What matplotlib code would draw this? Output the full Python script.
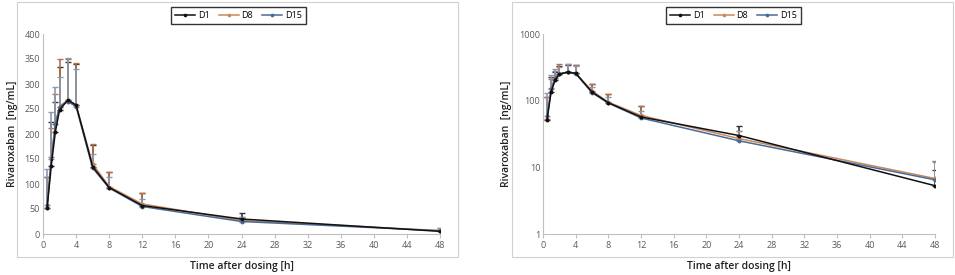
import numpy as np
import matplotlib.pyplot as plt
from matplotlib.patches import Rectangle
from matplotlib.ticker import FixedLocator, NullLocator

plt.rcParams['font.family'] = ['Open Sans', 'DejaVu Sans']

# sampling times [h]
times = [0.5, 1, 1.5, 2, 3, 4, 6, 8, 12, 24, 48]

# mean concentrations [ng/mL]
d1_mean = [52, 137, 205, 248, 268, 258, 135, 93, 57, 30, 5.3]
d8_mean = [53, 155, 220, 255, 268, 258, 140, 95, 60, 27, 6.8]
d15_mean = [58, 150, 220, 255, 265, 255, 132, 92, 55, 25, 6.5]

# upper standard deviations [ng/mL]
d1_sd = [63, 88, 60, 87, 77, 82, 43, 32, 26, 12, 3.7]
d8_sd = [62, 58, 60, 95, 82, 85, 40, 30, 23, 8, 5.7]
d15_sd = [72, 95, 75, 60, 87, 75, 28, 23, 15, 10, 5.5]

series = [
    ("D1", d1_mean, d1_sd, "#111111", "#333333", 5),
    ("D8", d8_mean, d8_sd, "#c8895a", "#b8704a", 3),
    ("D15", d15_mean, d15_sd, "#4a6a96", "#8a9ab0", 4),
]

x_ticks = list(range(0, 49, 4))

W, H = 955, 275
fig = plt.figure(figsize=(W / 100, H / 100), dpi=100)


def draw_panel(left_px, right_px, box, log):
    ax = fig.add_axes([left_px / W, 41 / H, (right_px - left_px) / W, 200 / H])
    for name, mean, sd, col, ecol, z in series:
        ax.errorbar(times, mean, yerr=[np.zeros(len(sd)), sd], fmt='none',
                    ecolor=ecol, elinewidth=1.2, capsize=2.5, capthick=1, zorder=2)
        ax.plot(times, mean, '-', color=col, lw=1.1, marker='o', ms=1.8,
                label=name, zorder=z)
    ax.set_xlim(0, 48)
    if log:
        ax.set_yscale('log')
        ax.set_ylim(1, 1000)
        ax.yaxis.set_major_locator(FixedLocator([1, 10, 100, 1000]))
        ax.set_yticklabels(['1', '10', '100', '1000'])
        ax.yaxis.set_minor_locator(NullLocator())
    else:
        ax.set_ylim(0, 400)
        ax.set_yticks(range(0, 401, 50))
    ax.set_xticks(x_ticks)
    for s in ('top', 'right'):
        ax.spines[s].set_visible(False)
    for s in ('left', 'bottom'):
        ax.spines[s].set_color('#bfbfbf')
    ax.tick_params(axis='both', labelsize=6.5, colors='#595959', length=3,
                   width=0.8, pad=2)
    ax.tick_params(axis='y', length=0)
    ax.tick_params(axis='x', color='#bfbfbf')
    ax.set_ylabel('Rivaroxaban  [ng/mL]', fontsize=7.5, fontweight='semibold',
                  color='#222222', labelpad=5)
    ax.set_xlabel('Time after dosing [h]', fontsize=7.5, fontweight='semibold',
                  color='#222222', va='center')
    ax.xaxis.set_label_coords(0.5, -33 / 200)
    bx0, by0, bx1, by1 = box
    fig.patches.append(Rectangle((bx0 / W, 1 - by1 / H), (bx1 - bx0) / W,
                                 (by1 - by0) / H, transform=fig.transFigure,
                                 fill=False, ec='#d0d0d0', lw=0.8, zorder=0))
    cx = (bx0 + bx1) / 2 + 1
    leg = ax.legend(loc='center', bbox_to_anchor=(cx / W, 1 - 15.5 / H),
                    bbox_transform=fig.transFigure, ncol=3, fontsize=6.5,
                    frameon=True, fancybox=False, handlelength=2.2,
                    columnspacing=1.0, handletextpad=0.3, borderpad=0.45,
                    markerscale=0.9)
    leg.get_frame().set_edgecolor('black')
    leg.get_frame().set_linewidth(1.0)
    return ax


draw_panel(43, 440, (17, 2, 458, 257), log=False)
draw_panel(543, 935, (512, 2, 953, 257), log=True)

fig.savefig('out.png', dpi=100)
